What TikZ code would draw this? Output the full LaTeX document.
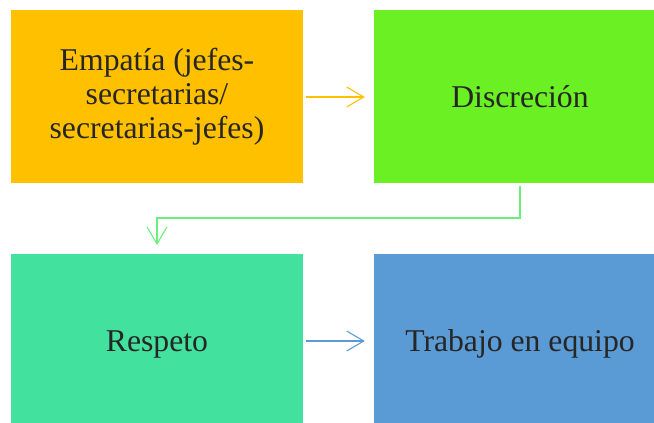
\documentclass[tikz,border=0pt]{standalone}
\usepackage{fontspec}
\setmainfont{Liberation Serif}
\usepackage{tikz}
\usetikzlibrary{positioning, arrows.meta}

\definecolor{naranja}{HTML}{FFC000}
\definecolor{verde}{HTML}{6AF023}
\definecolor{turquesa}{HTML}{42E19D}
\definecolor{azul}{HTML}{5B9BD5}
\definecolor{verdeflecha}{HTML}{6CEE7C}

\begin{document}
\begin{tikzpicture}
            [x=1pt, y=-1pt,
             caja/.style={rectangle, inner sep=0pt, align=center, text=black!85,
                          minimum width=292pt, font=\fontsize{31.7}{34}\selectfont},
             flecha/.style={line width=1.1pt, -{Straight Barb[length=17pt, width=20pt, line width=1.1pt]}}]
            \useasboundingbox (0,0) rectangle (654,423);
            \node[caja, fill=naranja, minimum height=173pt] (A) at (157,96.5) {Empatía (jefes-\\secretarias/\\secretarias-jefes)};
            \node[caja, fill=verde, minimum height=173pt] (B) at (520,96.5) {Discreción};
            \node[caja, fill=turquesa, minimum height=180pt] (C) at (157,344) {Respeto};
            \node[caja, fill=azul, minimum height=180pt] (D) at (520,344) {Trabajo en equipo};

            \coordinate (b1) at (520,186);
            \coordinate (c1) at (157,245);
            \draw[flecha, naranja] ([xshift=3pt]A.east |- 0,97) -- ([xshift=-9pt]B.west |- 0,97);
            \draw[flecha, verdeflecha] (b1) -- (520,218) -- (157,218) -- (c1);
            \draw[flecha, azul] ([xshift=3pt]C.east |- 0,341) -- ([xshift=-9pt]D.west |- 0,341);
        \end{tikzpicture}
\end{document}
